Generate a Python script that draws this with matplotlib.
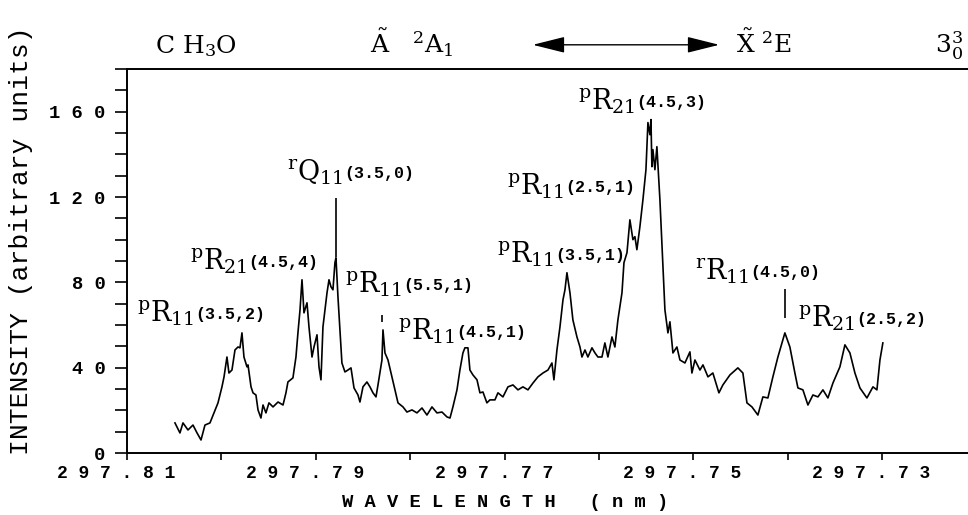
import matplotlib
matplotlib.use("Agg")
import matplotlib.pyplot as plt
from matplotlib.patches import FancyArrowPatch
from matplotlib.ticker import MultipleLocator

plt.rcParams['font.family'] = ['Liberation Mono', 'DejaVu Sans']
plt.rcParams['mathtext.fontset'] = 'custom'
plt.rcParams['mathtext.rm'] = 'DejaVu Serif'
plt.rcParams['mathtext.it'] = 'DejaVu Serif:italic'
plt.rcParams['mathtext.bf'] = 'DejaVu Serif:bold'

# CH3O A-X 3_0^3 band, trace
wavelength = [
    297.80492, 297.80439, 297.80407, 297.80354, 297.80301, 297.80258, 297.80216, 297.80174,
    297.80121, 297.80078, 297.80036, 297.79994, 297.79972, 297.79941, 297.79920, 297.79888,
    297.79856, 297.79824, 297.79803, 297.79782, 297.79761, 297.79729, 297.79718, 297.79686,
    297.79665, 297.79634, 297.79612, 297.79581, 297.79559, 297.79528, 297.79496, 297.79453,
    297.79400, 297.79347, 297.79316, 297.79295, 297.79242, 297.79210, 297.79189, 297.79167,
    297.79146, 297.79125, 297.79093, 297.79072, 297.79040, 297.79019, 297.78987, 297.78966,
    297.78945, 297.78924, 297.78903, 297.78881, 297.78860, 297.78839, 297.78818, 297.78797,
    297.78786, 297.78765, 297.78723, 297.78691, 297.78659, 297.78627, 297.78595, 297.78553,
    297.78532, 297.78500, 297.78458, 297.78426, 297.78394, 297.78362, 297.78341, 297.78299,
    297.78288, 297.78267, 297.78235, 297.78193, 297.78161, 297.78129, 297.78076, 297.78034,
    297.77981, 297.77928, 297.77875, 297.77822, 297.77769, 297.77716, 297.77663, 297.77610,
    297.77578, 297.77547, 297.77504, 297.77473, 297.77441, 297.77420, 297.77388, 297.77367,
    297.77335, 297.77292, 297.77261, 297.77229, 297.77187, 297.77155, 297.77102, 297.77070,
    297.77017, 297.76964, 297.76911, 297.76858, 297.76805, 297.76752, 297.76699, 297.76646,
    297.76593, 297.76540, 297.76498, 297.76477, 297.76445, 297.76413, 297.76381, 297.76360,
    297.76339, 297.76307, 297.76276, 297.76233, 297.76201, 297.76180, 297.76148, 297.76117,
    297.76074, 297.76042, 297.76011, 297.75968, 297.75937, 297.75905, 297.75862, 297.75831,
    297.75799, 297.75756, 297.75735, 297.75703, 297.75672, 297.75640, 297.75619, 297.75598,
    297.75566, 297.75534, 297.75502, 297.75481, 297.75460, 297.75449, 297.75439, 297.75428,
    297.75407, 297.75386, 297.75354, 297.75322, 297.75301, 297.75269, 297.75248, 297.75216,
    297.75174, 297.75142, 297.75089, 297.75036, 297.75015, 297.74983, 297.74930, 297.74898,
    297.74845, 297.74793, 297.74729, 297.74687, 297.74612, 297.74528, 297.74475, 297.74432,
    297.74379, 297.74316, 297.74263, 297.74210, 297.74157, 297.74104, 297.74030, 297.73977,
    297.73924, 297.73892, 297.73839, 297.73786, 297.73733, 297.73680, 297.73627, 297.73574,
    297.73521, 297.73447, 297.73394, 297.73341, 297.73288, 297.73235, 297.73161, 297.73097,
    297.73055, 297.73023, 297.72992,
]
intensity = [
    14.1, 9.4, 14.1, 10.8, 13.1, 9.4, 6.1, 13.1,
    14.1, 18.8, 23.5, 31.0, 35.7, 45.0, 37.5, 38.9,
    48.3, 49.7, 49.3, 56.3, 45.0, 40.4, 41.3, 31.0,
    28.2, 27.2, 20.2, 16.4, 22.5, 18.8, 23.5, 21.6,
    23.9, 22.5, 28.2, 33.3, 35.2, 45.0, 56.3, 67.1,
    81.2, 65.7, 70.4, 59.1, 45.0, 49.7, 55.4, 40.4,
    34.3, 59.1, 67.1, 75.1, 81.2, 77.9, 76.5, 89.2,
    91.5, 73.2, 42.2, 38.0, 38.9, 39.9, 30.5, 27.2,
    23.9, 31.0, 33.3, 31.0, 28.2, 26.3, 31.9, 43.6,
    57.7, 46.9, 43.6, 35.7, 29.6, 23.5, 21.6, 19.2,
    20.2, 18.8, 21.1, 17.8, 21.6, 18.8, 19.2, 16.9,
    16.4, 21.6, 29.6, 38.9, 46.9, 49.3, 49.3, 38.9,
    36.6, 34.3, 28.2, 28.6, 23.5, 24.9, 24.9, 28.2,
    26.3, 31.0, 31.9, 29.6, 31.0, 29.6, 32.8, 35.7,
    37.5, 38.9, 42.2, 34.3, 48.3, 59.1, 71.8, 76.5,
    84.5, 75.1, 62.4, 54.4, 49.7, 45.0, 48.3, 45.0,
    49.3, 46.9, 45.0, 45.0, 51.6, 45.0, 54.4, 49.7,
    62.4, 75.1, 89.2, 93.9, 109.3, 100.0, 101.4, 95.3,
    106.1, 118.7, 132.8, 154.9, 149.2, 156.3, 134.2, 142.2,
    132.8, 143.6, 118.7, 87.3, 67.1, 56.3, 61.5, 46.9,
    49.7, 43.6, 42.2, 47.4, 37.5, 43.6, 38.9, 41.3,
    35.7, 37.5, 28.2, 31.9, 36.6, 39.9, 37.5, 23.5,
    21.6, 17.8, 26.3, 25.8, 35.7, 45.0, 56.3, 49.7,
    37.5, 30.5, 29.6, 22.5, 27.2, 26.3, 29.6, 25.8,
    32.8, 40.4, 50.7, 46.9, 37.5, 30.5, 25.8, 31.0,
    29.6, 43.6, 51.6,
]

xticks = [297.81, 297.80, 297.79, 297.78, 297.77, 297.76, 297.75, 297.74, 297.73]
xticklabels = ["2 9 7 . 8 1  ", "", "2 9 7 . 7 9  ", "", "2 9 7 . 7 7  ", "",
               "2 9 7 . 7 5  ", "", "2 9 7 . 7 3  "]
yticks = [0, 40, 80, 120, 160]
yticklabels = ["0", "4 0", "8 0", "1 2 0", "1 6 0"]

# rotational line assignments: (superscript, branch, subscript, quantum numbers)
line_names = [
    ("p", "R", "11", "(3.5,2)"),
    ("p", "R", "21", "(4.5,4)"),
    ("r", "Q", "11", "(3.5,0)"),
    ("p", "R", "11", "(5.5,1)"),
    ("p", "R", "11", "(4.5,1)"),
    ("p", "R", "11", "(3.5,1)"),
    ("p", "R", "11", "(2.5,1)"),
    ("p", "R", "21", "(4.5,3)"),
    ("r", "R", "11", "(4.5,0)"),
    ("p", "R", "21", "(2.5,2)"),
]
# short bars marking some lines
bar_wl = [297.78786, 297.78299, 297.74030]
bar_lo = [92.0, 61.5, 63.5]
bar_hi = [119.5, 64.7, 77.0]

fig = plt.figure(figsize=(9.68, 5.15), dpi=100)
ax = fig.add_axes([127 / 968, 62 / 515, 1 - 127 / 968, 384 / 515])

ax.plot(wavelength, intensity, color='black', lw=1.2)
ax.vlines(bar_wl, bar_lo, bar_hi, color='black', lw=1.2)

ax.set_xlim(297.81, 297.7209)
ax.set_ylim(0, 180)

ax.set_xticks(xticks)
ax.set_xticklabels(xticklabels, fontsize=13, fontweight='bold')
ax.set_yticks(yticks)
ax.set_yticklabels(yticklabels, fontsize=13.5, fontweight='bold')
ax.yaxis.set_minor_locator(MultipleLocator(10))
ax.tick_params(axis='x', direction='out', length=5, width=1.2, pad=4)
ax.tick_params(axis='y', which='both', direction='out', length=8.5, width=1.2, pad=7)

for s in ['left', 'top', 'bottom']:
    ax.spines[s].set_linewidth(1.4)
ax.spines['right'].set_visible(False)

# label anchors (left edge, baseline of the branch letter) in data coordinates
label_pos = [
    (297.80894, 61.5), (297.80333, 85.9), (297.79305, 127.6), (297.78691, 75.1),
    (297.78129, 53.0), (297.77081, 89.2), (297.76975, 121.1), (297.76222, 161.0),
    (297.74983, 81.2), (297.73892, 59.1),
]
for (sup, br, sub, qn), (lx, ly) in zip(line_names, label_pos):
    t = ax.text(lx, ly, r"$^{\mathrm{%s}}\mathrm{%s}_{%s}$" % (sup, br, sub),
                fontsize=19.5, ha='left', va='baseline')
    ax.annotate(qn, xy=(1, ly), xycoords=(t, 'data'), xytext=(1, 2),
                textcoords='offset points', fontsize=12, fontweight='bold',
                ha='left', va='baseline')

# header line
hdr = dict(fontsize=18, va='baseline', family='DejaVu Serif')
fig.text(155 / 968, 0.897, r"C H$_3$O", **hdr)
fig.text(370 / 968, 0.897, r"$\tilde{\mathrm{A}}$   $^{2}$A$_{1}$", **hdr)
fig.text(736 / 968, 0.897, r"$\tilde{\mathrm{X}}$ $^{2}$E", **hdr)
fig.text(963 / 968, 0.897, r"3$_0^3$", ha='right', **hdr)
fig.patches.append(FancyArrowPatch(
    (530 / 968, 0.913), (722 / 968, 0.913), transform=fig.transFigure,
    arrowstyle='<|-|>,head_length=1.0,head_width=0.25', mutation_scale=20,
    color='black', lw=1.0))

fig.text(21 / 968, 0.532, "INTENSITY (arbitrary units)", fontsize=19,
         rotation=90, ha='center', va='center')
fig.text(505 / 968, 0.025, "W A V E L E N G T H   ( n m )", fontsize=13.5,
         fontweight='bold', ha='center', va='center')

fig.savefig('out.png', dpi=100)
